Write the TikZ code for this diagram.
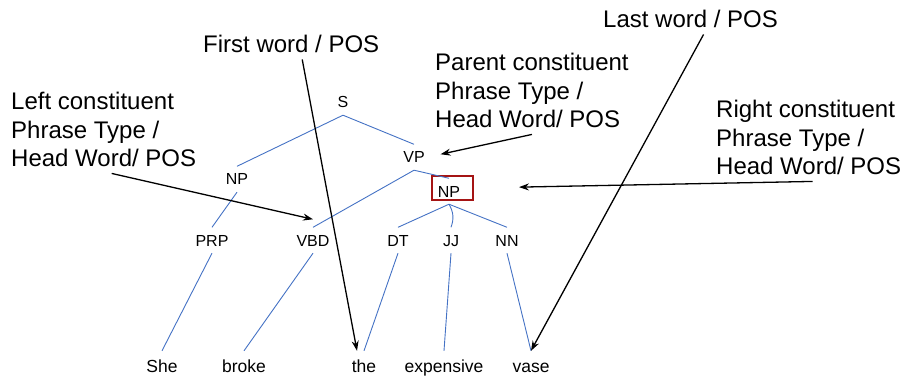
\documentclass[tikz,border=0pt]{standalone}
\usepackage{fontspec}
\setmainfont{Liberation Sans}
\usetikzlibrary{arrows.meta}
\definecolor{treeblue}{RGB}{68,114,196}
\definecolor{boxred}{RGB}{165,20,20}

\begin{document}
\begin{tikzpicture}[
    x=1pt, y=-1pt,
    tag/.style={anchor=base, font=\fontsize{16}{16}\selectfont, text height=11.5pt, text depth=0pt, inner xsep=2pt, inner ysep=7pt},
    word/.style={anchor=base, font=\fontsize{17.5}{17.5}\selectfont, text height=13pt, text depth=4pt, inner xsep=2pt, inner ysep=8pt},
    note/.style={anchor=base west, align=left, font=\fontsize{24}{28.5}\selectfont, inner xsep=0pt, inner ysep=6pt},
    branch/.style={treeblue, line width=0.9pt},
    pointer/.style={black, line width=1.3pt, -{Stealth[length=10pt,width=7pt]}},
    hlbox/.style={draw=boxred, line width=2pt, minimum width=41pt, minimum height=24pt, inner sep=0pt}
]
\useasboundingbox (0,0) rectangle (903,377);

% parse tree
\node (S) [tag] at (343,108) {S};
\node (NPl) [tag] at (237,185) {NP};
\node (VP) [tag] at (414,163) {VP};
\node (PRP) [tag] at (212,246) {PRP};
\node (VBD) [tag] at (313,246) {VBD};
\node (NPr) [tag] at (449,197) {NP};
\node (DT) [tag] at (398,246) {DT};
\node (JJ) [tag] at (451,246) {JJ};
\node (NN) [tag] at (507,246) {NN};
\node (box) [hlbox] at (452.5,188) {};

% words
\node (she) [word] at (162,372) {She};
\node (broke) [word] at (244,372) {broke};
\node (the) [word] at (364,372) {the};
\node (expensive) [word] at (444,372) {expensive};
\node (vase) [word] at (531,372) {vase};

% features (base = last line)
\node (firstnote) [note] at (203,53) {First word / POS};
\node (lastnote) [note] at (603,28) {Last word / POS};
\node (leftnote) [note] at (11,167) {Left constituent\\Phrase Type /\\Head Word/ POS};
\node (parentnote) [note] at (435,128) {Parent constituent\\Phrase Type /\\Head Word/ POS};
\node (rightnote) [note] at (716,175) {Right constituent\\Phrase Type /\\Head Word/ POS};

% branches
\draw [branch] (S.south) -- (NPl.north);
\draw [branch] (S.south) -- (VP.north);
\draw [branch] (NPl.south) -- (PRP.north);
\draw [branch] (VP.south) -- (VBD.north);
\draw [branch] (VP.south) -- (NPr.north);
\draw [branch] (NPr.south) -- (DT.north);
\draw [branch] (NPr.south) to[bend left=25] (JJ.north);
\draw [branch] (NPr.south) -- (NN.north);
\draw [branch] (PRP.south) -- (she.north);
\draw [branch] (VBD.south) -- (broke.north);
\draw [branch] (DT.south) -- (the.north);
\draw [branch] (JJ.south) -- (expensive.north);
\draw [branch] (NN.south) -- (vase.north);

% arrows
\draw [pointer] ([xshift=11pt]firstnote.south) -- ([xshift=-7pt]the.north);
\draw [pointer] ([xshift=13pt]lastnote.south) -- (vase.north);
\draw [pointer] ([xshift=8pt]leftnote.south) -- ([yshift=8pt]VBD.north);
\draw [pointer, shorten >=14pt] (parentnote.south) -- (VP.east);
\draw [pointer, shorten >=45pt] ([xshift=4pt]rightnote.south) -- (box.east);

\end{tikzpicture}
\end{document}
